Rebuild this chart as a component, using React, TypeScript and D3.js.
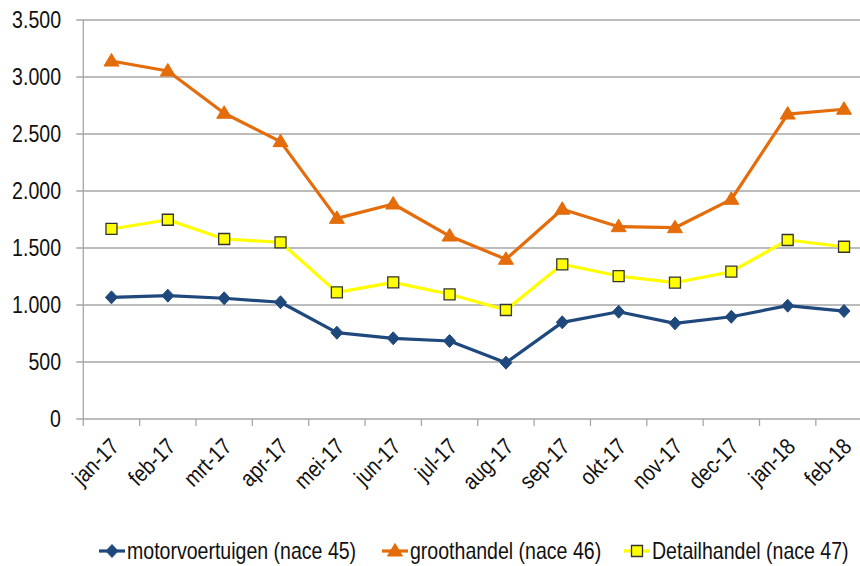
import React from 'react';
import * as d3 from 'd3';

const months = ['jan-17', 'feb-17', 'mrt-17', 'apr-17', 'mei-17', 'jun-17', 'jul-17', 'aug-17', 'sep-17', 'okt-17', 'nov-17', 'dec-17', 'jan-18', 'feb-18'];
const motorvoertuigen = [1067, 1082, 1059, 1024, 757, 708, 684, 494, 848, 941, 839, 897, 994, 947];
const groothandel = [3140, 3053, 2682, 2433, 1760, 1886, 1605, 1401, 1840, 1687, 1678, 1927, 2675, 2717];
const detailhandel = [1667, 1748, 1579, 1550, 1111, 1199, 1094, 956, 1357, 1254, 1196, 1292, 1570, 1511];
const yTicks = [0, 500, 1000, 1500, 2000, 2500, 3000, 3500];

const series = [
    { name: 'motorvoertuigen (nace 45)', values: motorvoertuigen, color: '#1F497D', marker: 'diamond' },
    { name: 'groothandel (nace 46)', values: groothandel, color: '#E46C0A', marker: 'triangle' },
    { name: 'Detailhandel (nace 47)', values: detailhandel, color: '#FFFF00', marker: 'square' },
];

const FONT = '"Liberation Sans", Arial, sans-serif';
const SX = 0.85;

const markerPath = (type) => {
    if (type === 'diamond') return 'M0,-6.5L6,0L0,6.5L-6,0Z';
    if (type === 'triangle') return 'M0,-7.5L7.5,5L-7.5,5Z';
    return 'M-5.5,-5.5H5.5V5.5H-5.5Z';
};

const Marker = ({ type, color, x, y }) => (
    <path
        d={markerPath(type)}
        transform={`translate(${x},${y})`}
        fill={color}
        stroke={type === 'square' ? '#333' : color}
        strokeWidth={type === 'square' ? 1.3 : 1}
    />
);

const App = () => {
    const width = 860;
    const height = 566;
    const left = 83.3;
    const band = 56.35;

    const x = d3.scaleBand().domain(months).range([left, left + band * months.length]);
    const y = d3.scaleLinear().domain([0, 3500]).range([419, 20]);
    const cx = (m) => x(m) + x.bandwidth() / 2;
    const line = d3.line().x((d, i) => cx(months[i])).y((d) => y(d));

    const legendX = [99, 382, 624];

    return (
        <div>
            <style>{'body{margin:0}'}</style>
            <svg width={width} height={height} style={{ display: 'block', background: '#fff' }} fontFamily={FONT}>
                {/* gridlines */}
                {yTicks.map((t) => (
                    <line key={t} x1={left - 7} x2={width} y1={y(t)} y2={y(t)} stroke="#a6a6a6" strokeWidth={1.3} />
                ))}
                <line x1={left} x2={left} y1={y(3500)} y2={y(0)} stroke="#a6a6a6" strokeWidth={1.3} />
                {months.map((m) => (
                    <line key={m} x1={x(m)} x2={x(m)} y1={y(0)} y2={y(0) + 7} stroke="#a6a6a6" strokeWidth={1.3} />
                ))}

                {/* y labels */}
                {yTicks.map((t) => (
                    <text
                        key={t}
                        transform={`translate(61,${y(t) + 8.2}) scale(${SX},1)`}
                        textAnchor="end"
                        fontSize={23}
                        fill="#111"
                    >
                        {d3.format(',')(t).replace(/,/g, '.')}
                    </text>
                ))}

                {/* x labels */}
                {months.map((m) => (
                    <text
                        key={m}
                        transform={`translate(${cx(m) + 9},${y(0) + 29}) rotate(-45) scale(${SX},1)`}
                        textAnchor="end"
                        fontSize={23}
                        fill="#111"
                    >
                        {m}
                    </text>
                ))}

                {/* series */}
                {series.map((s) => (
                    <g key={s.name}>
                        <path d={line(s.values)} fill="none" stroke={s.color} strokeWidth={3.2} strokeLinejoin="round" />
                        {s.values.map((v, i) => (
                            <Marker key={i} type={s.marker} color={s.color} x={cx(months[i])} y={y(v)} />
                        ))}
                    </g>
                ))}

                {/* legend */}
                {series.map((s, i) => (
                    <g key={s.name} transform={`translate(${legendX[i]},551)`}>
                        <line x1={0} x2={26} y1={0} y2={0} stroke={s.color} strokeWidth={3.2} />
                        <Marker type={s.marker} color={s.color} x={13} y={0} />
                        <text transform={`translate(28,7.5) scale(${SX},1)`} fontSize={23} fill="#111">
                            {s.name}
                        </text>
                    </g>
                ))}
            </svg>
        </div>
    );
};

export default App;
